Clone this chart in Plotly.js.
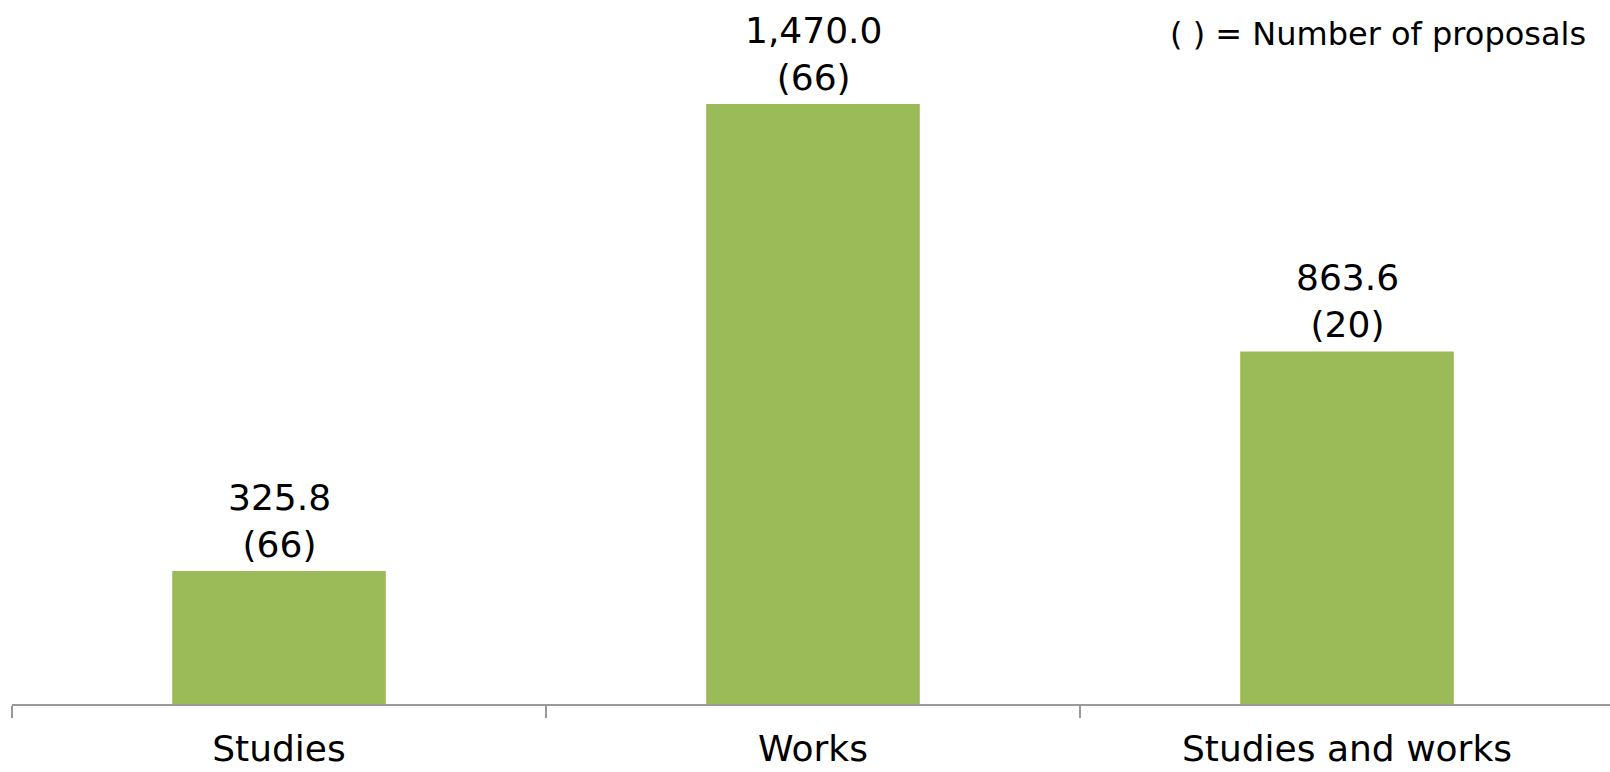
<!DOCTYPE html>
<html>
<head>
<meta charset="utf-8">
<script src="https://cdn.plot.ly/plotly-3.0.1.min.js"></script>
<style>
  html, body { margin: 0; padding: 0; background: #fff; }
  #chart { width: 1610px; height: 772px; }
</style>
</head>
<body>
<div id="chart"></div>
<script>
const categories = ["Studies", "Works", "Studies and works"];
const amounts = [325.8, 1470.0, 863.6];
const proposals = [66, 66, 20];
const noteText = "( ) = Number of proposals";

const FONT = "DejaVu Sans, Verdana, sans-serif";

const trace = {
  type: "bar",
  x: categories,
  y: amounts,
  width: 0.4,
  marker: { color: "#9BBB59" },
  hoverinfo: "none"
};

const fmt = v => v.toLocaleString("en-US", { minimumFractionDigits: 1, maximumFractionDigits: 1 });

const valueLabels = categories.map((c, i) => ({
  x: c,
  y: amounts[i],
  xref: "x", yref: "y",
  text: fmt(amounts[i]) + "<br>(" + proposals[i] + ")",
  showarrow: false,
  xanchor: "center",
  yanchor: "bottom",
  yshift: 4,
  font: { family: FONT, size: 36, color: "#000" }
}));

const layout = {
  width: 1610,
  height: 772,
  margin: { l: 12, r: 0, t: 10, b: 68 },
  paper_bgcolor: "#fff",
  plot_bgcolor: "#fff",
  showlegend: false,
  font: { family: FONT, color: "#000" },
  xaxis: {
    type: "category",
    range: [-0.5, 2.5 - 4 / 534],
    showline: true,
    linecolor: "#999999",
    linewidth: 2,
    ticks: "outside",
    tickson: "boundaries",
    ticklen: 12,
    tickwidth: 1.5,
    tickcolor: "#999999",
    ticklabelstandoff: 12,
    showgrid: false,
    zeroline: false,
    tickfont: { family: FONT, size: 36, color: "#000" }
  },
  yaxis: {
    range: [0, 1700],
    visible: false,
    showgrid: false,
    zeroline: false
  },
  annotations: valueLabels.concat([{
    text: noteText,
    xref: "paper", yref: "paper",
    x: 0.9862, y: 0.965,
    xanchor: "right", yanchor: "middle",
    showarrow: false,
    font: { family: FONT, size: 32, color: "#000" }
  }])
};

Plotly.newPlot("chart", [trace], layout, { displayModeBar: false, staticPlot: true });
</script>
</body>
</html>
